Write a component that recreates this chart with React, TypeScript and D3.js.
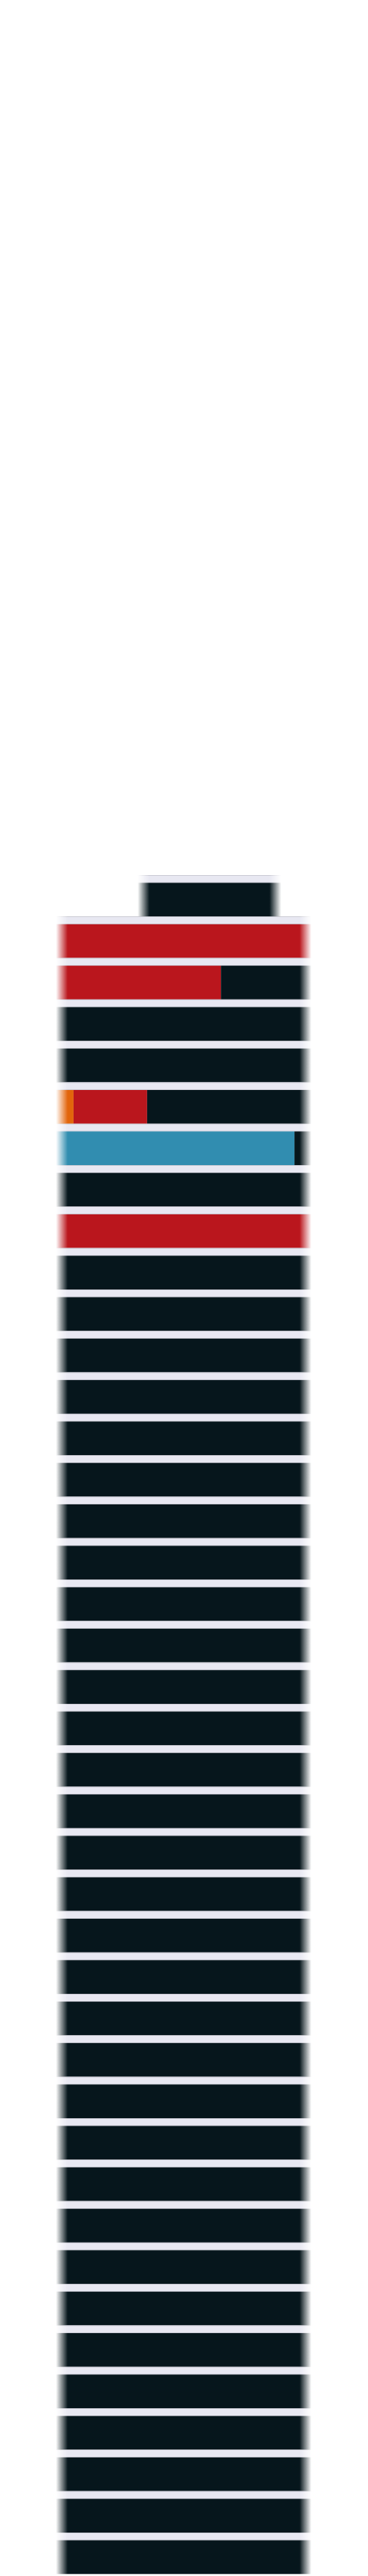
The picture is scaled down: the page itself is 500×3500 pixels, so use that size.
import { useEffect, useRef } from 'react';
import * as d3 from 'd3';

// one entry per band, top to bottom (first one is the short header strip)
const ROW_LABELS = [
  'Header',
  'Row 1', 'Row 2', 'Row 3', 'Row 4', 'Row 5', 'Row 6', 'Row 7', 'Row 8', 'Row 9', 'Row 10',
  'Row 11', 'Row 12', 'Row 13', 'Row 14', 'Row 15', 'Row 16', 'Row 17', 'Row 18', 'Row 19', 'Row 20',
  'Row 21', 'Row 22', 'Row 23', 'Row 24', 'Row 25', 'Row 26', 'Row 27', 'Row 28', 'Row 29', 'Row 30',
  'Row 31', 'Row 32', 'Row 33', 'Row 34', 'Row 35', 'Row 36', 'Row 37', 'Row 38', 'Row 39', 'Row 40',
];

// share of the row (0-100) for each segment
const LEAD_VALUES = [
  32.0,
  0, 0, 0, 0, 0, 0, 0, 0, 0, 0,
  0, 0, 0, 0, 0, 0, 0, 0, 0, 0,
  0, 0, 0, 0, 0, 0, 0, 0, 0, 0,
  0, 0, 0, 0, 0, 0, 0, 0, 0, 0,
];
const ORANGE_VALUES = [
  0,
  0, 0, 0, 0, 6.9, 0, 0, 0, 0, 0,
  0, 0, 0, 0, 0, 0, 0, 0, 0, 0,
  0, 0, 0, 0, 0, 0, 0, 0, 0, 0,
  0, 0, 0, 0, 0, 0, 0, 0, 0, 0,
];
const RED_VALUES = [
  0,
  100, 64.6, 0, 0, 28.8, 0, 0, 100, 0, 0,
  0, 0, 0, 0, 0, 0, 0, 0, 0, 0,
  0, 0, 0, 0, 0, 0, 0, 0, 0, 0,
  0, 0, 0, 0, 0, 0, 0, 0, 0, 0,
];
const BLUE_VALUES = [
  0,
  0, 0, 0, 0, 0, 93.4, 0, 0, 0, 0,
  0, 0, 0, 0, 0, 0, 0, 0, 0, 0,
  0, 0, 0, 0, 0, 0, 0, 0, 0, 0,
  0, 0, 0, 0, 0, 0, 0, 0, 0, 0,
];
const DARK_VALUES = [
  56.2,
  0, 35.4, 100, 100, 64.3, 6.6, 100, 0, 100, 100,
  100, 100, 100, 100, 100, 100, 100, 100, 100, 100,
  100, 100, 100, 100, 100, 100, 100, 100, 100, 100,
  100, 100, 100, 100, 100, 100, 100, 100, 100, 100,
];

const KEYS = ['lead', 'orange', 'red', 'blue', 'dark'];
const COLORS: Record<string, string> = {
  orange: '#E2650B',
  red: '#BA161D',
  blue: '#318DB0',
  dark: '#06161C',
};

export default function App() {
  const svgRef = useRef<SVGSVGElement>(null);

  useEffect(() => {
    if (!svgRef.current) return;

    const width = 500;
    const height = 3500;
    const gap = 10.5; // lavender strip above each bar
    const fade = 16;

    const svg = d3.select(svgRef.current);
    svg.selectAll('*').remove();
    svg.attr('width', width).attr('height', height);

    const rows = ROW_LABELS.map((label, i) => ({
      label,
      lead: LEAD_VALUES[i],
      orange: ORANGE_VALUES[i],
      red: RED_VALUES[i],
      blue: BLUE_VALUES[i],
      dark: DARK_VALUES[i],
    }));

    const x = d3.scaleLinear().domain([0, 100]).range([76, 423]);
    const y = d3.scaleBand().domain(ROW_LABELS).range([1189, 3497.3]);

    const stacked = d3.stack<any>().keys(KEYS)(rows);
    const defs = svg.append('defs');

    rows.forEach((row, i) => {
      const x0 = x(row.lead);
      const x1 = x(row.lead + row.orange + row.red + row.blue + row.dark);
      const w = x1 - x0;
      const top = y(row.label)!;
      const barH = y.step() - gap;

      // horizontal fade on both ends of each band
      const grad = defs.append('linearGradient')
        .attr('id', `fade-g-${i}`)
        .attr('x1', '0').attr('x2', '1').attr('y1', '0').attr('y2', '0');
      [[0, 0], [fade / w, 1], [1 - fade / w, 1], [1, 0]].forEach(([o, a]) => {
        grad.append('stop').attr('offset', o).attr('stop-color', 'white').attr('stop-opacity', a);
      });
      defs.append('mask')
        .attr('id', `fade-m-${i}`)
        .attr('maskUnits', 'userSpaceOnUse')
        .attr('x', x0).attr('y', top - 1).attr('width', w).attr('height', y.step() + 2)
        .append('rect')
        .attr('x', x0).attr('y', top - 1).attr('width', w).attr('height', y.step() + 2)
        .attr('fill', `url(#fade-g-${i})`);

      const g = svg.append('g').attr('mask', `url(#fade-m-${i})`);

      g.append('rect')
        .attr('x', x0).attr('y', top)
        .attr('width', w).attr('height', gap)
        .attr('fill', '#E8E8F2');

      [top + 0.3, top + gap - 0.3].forEach((ly) => {
        g.append('line')
          .attr('x1', x0).attr('x2', x1)
          .attr('y1', ly).attr('y2', ly)
          .attr('stroke', '#8E8E9A')
          .attr('stroke-width', 0.6)
          .attr('opacity', 0.7);
      });

      stacked.forEach((series) => {
        if (series.key === 'lead') return;
        const d = series[i];
        if (d[1] - d[0] <= 0) return;
        g.append('rect')
          .attr('x', x(d[0]))
          .attr('y', top + gap)
          .attr('width', x(d[1]) - x(d[0]))
          .attr('height', barH)
          .attr('fill', COLORS[series.key]);
      });
    });
  }, []);

  return (
    <svg
      ref={svgRef}
      style={{ position: 'absolute', left: 0, top: 0, background: '#FFFFFF' }}
    />
  );
}
